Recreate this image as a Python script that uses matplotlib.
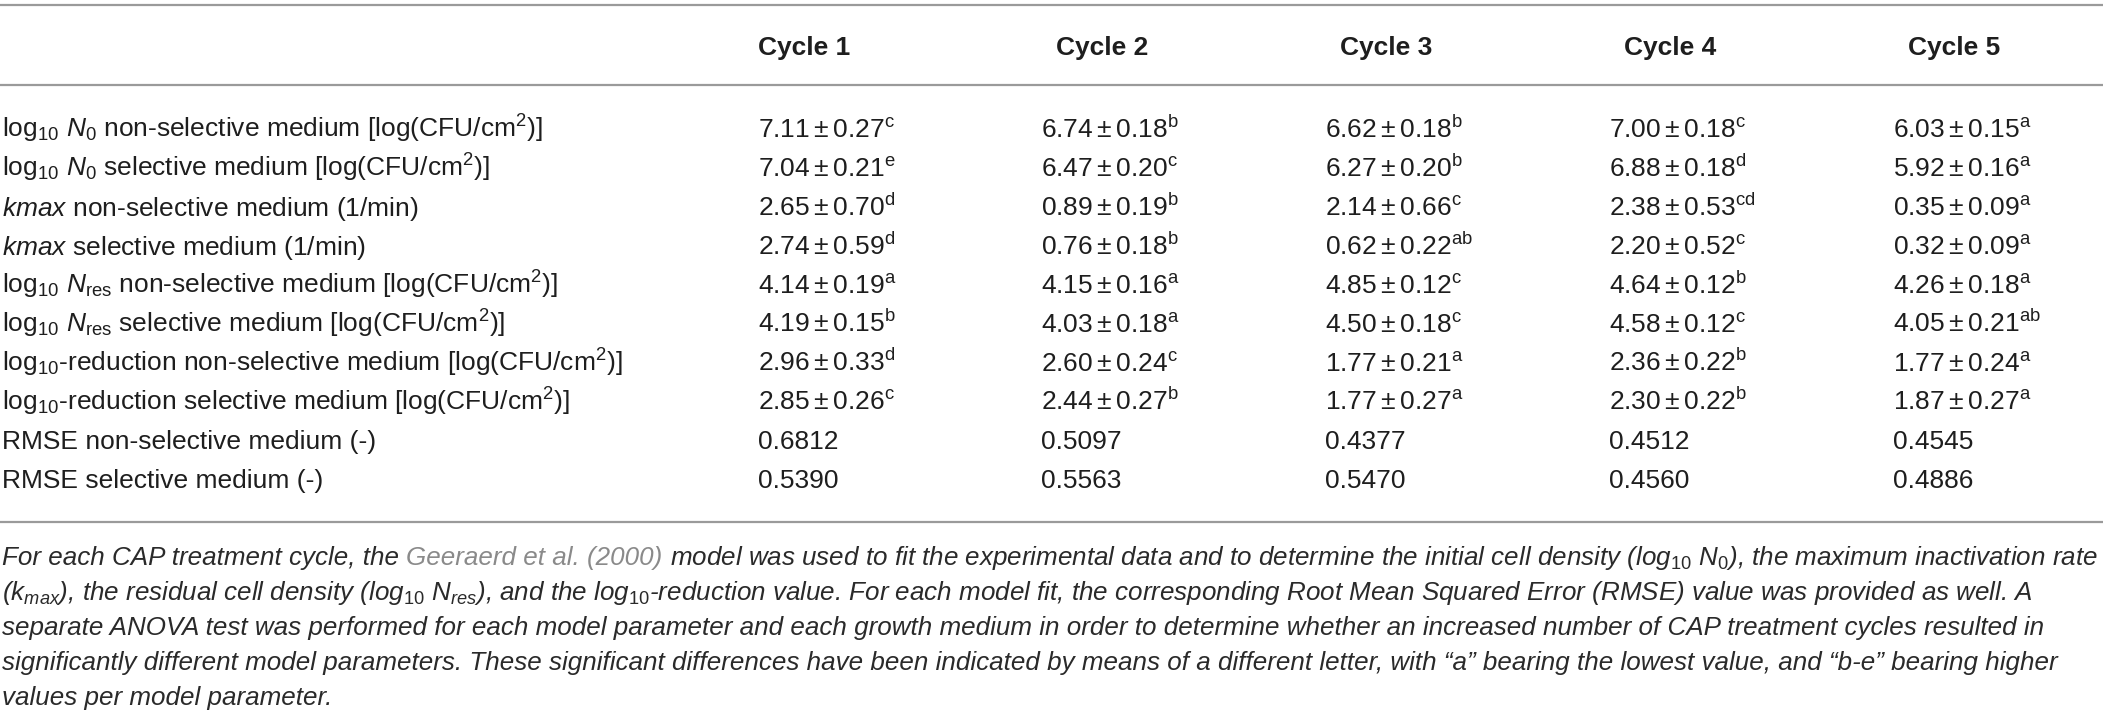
import matplotlib
matplotlib.use("Agg")
import matplotlib.pyplot as plt
from matplotlib import font_manager

# table data
cycles = ["Cycle 1", "Cycle 2", "Cycle 3", "Cycle 4", "Cycle 5"]

row_labels = [
    r"log$_{10}$ $N_0$ non-selective medium [log(CFU/cm$^2$)]",
    r"log$_{10}$ $N_0$ selective medium [log(CFU/cm$^2$)]",
    r"$kmax$ non-selective medium (1/min)",
    r"$kmax$ selective medium (1/min)",
    r"log$_{10}$ $N_{\mathrm{res}}$ non-selective medium [log(CFU/cm$^2$)]",
    r"log$_{10}$ $N_{\mathrm{res}}$ selective medium [log(CFU/cm$^2$)]",
    r"log$_{10}$-reduction non-selective medium [log(CFU/cm$^2$)]",
    r"log$_{10}$-reduction selective medium [log(CFU/cm$^2$)]",
    "RMSE non-selective medium (-)",
    "RMSE selective medium (-)",
]

n0_ns_mean = [7.11, 6.74, 6.62, 7.00, 6.03]
n0_ns_sd = [0.27, 0.18, 0.18, 0.18, 0.15]
n0_ns_let = ["c", "b", "b", "c", "a"]

n0_s_mean = [7.04, 6.47, 6.27, 6.88, 5.92]
n0_s_sd = [0.21, 0.20, 0.20, 0.18, 0.16]
n0_s_let = ["e", "c", "b", "d", "a"]

kmax_ns_mean = [2.65, 0.89, 2.14, 2.38, 0.35]
kmax_ns_sd = [0.70, 0.19, 0.66, 0.53, 0.09]
kmax_ns_let = ["d", "b", "c", "cd", "a"]

kmax_s_mean = [2.74, 0.76, 0.62, 2.20, 0.32]
kmax_s_sd = [0.59, 0.18, 0.22, 0.52, 0.09]
kmax_s_let = ["d", "b", "ab", "c", "a"]

nres_ns_mean = [4.14, 4.15, 4.85, 4.64, 4.26]
nres_ns_sd = [0.19, 0.16, 0.12, 0.12, 0.18]
nres_ns_let = ["a", "a", "c", "b", "a"]

nres_s_mean = [4.19, 4.03, 4.50, 4.58, 4.05]
nres_s_sd = [0.15, 0.18, 0.18, 0.12, 0.21]
nres_s_let = ["b", "a", "c", "c", "ab"]

red_ns_mean = [2.96, 2.60, 1.77, 2.36, 1.77]
red_ns_sd = [0.33, 0.24, 0.21, 0.22, 0.24]
red_ns_let = ["d", "c", "a", "b", "a"]

red_s_mean = [2.85, 2.44, 1.77, 2.30, 1.87]
red_s_sd = [0.26, 0.27, 0.27, 0.22, 0.27]
red_s_let = ["c", "b", "a", "b", "a"]

rmse_ns = [0.6812, 0.5097, 0.4377, 0.4512, 0.4545]
rmse_s = [0.5390, 0.5563, 0.5470, 0.4560, 0.4886]

# caption, line by line; (text, is_link) pieces
caption = [
    [("For each CAP treatment cycle, the", False), ("Geeraerd et al. (2000)", True),
     (r"model was used to fit the experimental data and to determine the initial cell density "
      r"(log$_{\mathit{10}}$ N$_{\mathit{0}}$), the maximum inactivation rate", False)],
    [(r"(k$_{\mathit{max}}$), the residual cell density (log$_{\mathit{10}}$ N$_{\mathit{res}}$), "
      r"and the log$_{\mathit{10}}$-reduction value. For each model fit, the corresponding Root Mean "
      r"Squared Error (RMSE) value was provided as well. A", False)],
    [("separate ANOVA test was performed for each model parameter and each growth medium in order "
      "to determine whether an increased number of CAP treatment cycles resulted in", False)],
    [("significantly different model parameters. These significant differences have been indicated "
      "by means of a different letter, with \u201ca\u201d bearing the lowest value, and \u201cb-e\u201d "
      "bearing higher", False)],
    [("values per model parameter.", False)],
]

plt.rcParams['font.family'] = ['Liberation Sans', 'DejaVu Sans']
plt.rcParams['mathtext.fontset'] = 'custom'
plt.rcParams['mathtext.rm'] = 'Liberation Sans'
plt.rcParams['mathtext.it'] = 'Liberation Sans:italic'
plt.rcParams['mathtext.bf'] = 'Liberation Sans:bold'

names = {f.name for f in font_manager.fontManager.ttflist}
cap_family = 'Liberation Sans Narrow' if 'Liberation Sans Narrow' in names else 'Liberation Sans'

W, H = 2103, 723
fig = plt.figure(figsize=(W / 100, H / 100), dpi=100)
ax = fig.add_axes([0, 0, 1, 1])
ax.set_xlim(0, W)
ax.set_ylim(H, 0)
ax.axis('off')

txt_col = '#1e1e1e'
line_col = '#9a9a9a'
col_x = [758, 1041, 1325, 1609, 1893]
head_x = [758, 1056, 1340, 1624, 1908]
fs = 19

ax.hlines([5, 85, 522], 0, W, color=line_col, lw=1.6)

for x, c in zip(head_x, cycles):
    ax.text(x, 55, c, fontsize=fs, fontweight='bold', color=txt_col, va='baseline', ha='left')

stats = [
    (n0_ns_mean, n0_ns_sd, n0_ns_let),
    (n0_s_mean, n0_s_sd, n0_s_let),
    (kmax_ns_mean, kmax_ns_sd, kmax_ns_let),
    (kmax_s_mean, kmax_s_sd, kmax_s_let),
    (nres_ns_mean, nres_ns_sd, nres_ns_let),
    (nres_s_mean, nres_s_sd, nres_s_let),
    (red_ns_mean, red_ns_sd, red_ns_let),
    (red_s_mean, red_s_sd, red_s_let),
]

row_y = [138 + 38.9 * i for i in range(len(row_labels))]

for i, lab in enumerate(row_labels):
    y = row_y[i]
    ax.text(2, y, lab, fontsize=fs, color=txt_col, va='baseline', ha='left')
    if i < len(stats):
        m, s, l = stats[i]
        cells = [r"$\mathregular{%.2f \pm %.2f^{%s}}$" % (m[j], s[j], l[j]) for j in range(5)]
    else:
        vals = rmse_ns if i == 8 else rmse_s
        cells = ["%.4f" % v for v in vals]
    for x, c in zip(col_x, cells):
        ax.text(x, y, c, fontsize=fs, color=txt_col, va='baseline', ha='left')

# caption: fit first line to the full width
renderer = fig.canvas.get_renderer()


def width_of(s, size):
    t = ax.text(0, 0, s, fontsize=size, family=cap_family, style='italic')
    w = t.get_window_extent(renderer).width
    t.remove()
    return w


base = 20
space_w = width_of("x x", base) - width_of("xx", base)
first_w = sum(width_of(p, base) for p, _ in caption[0]) + space_w * (len(caption[0]) - 1)
cap_fs = base * 2096 / first_w
space_w = space_w * cap_fs / base

cap_col = '#2a2a2a'
link_col = '#8a8a8a'
cap_y = [565 + 35 * i for i in range(len(caption))]
for y, pieces in zip(cap_y, caption):
    x = 2
    for p, link in pieces:
        t = ax.text(x, y, p, fontsize=cap_fs, family=cap_family, style='italic',
                    color=link_col if link else cap_col, va='baseline', ha='left')
        x += t.get_window_extent(renderer).width * (W / fig.bbox.width) + space_w

fig.savefig("out.png", dpi=100)
